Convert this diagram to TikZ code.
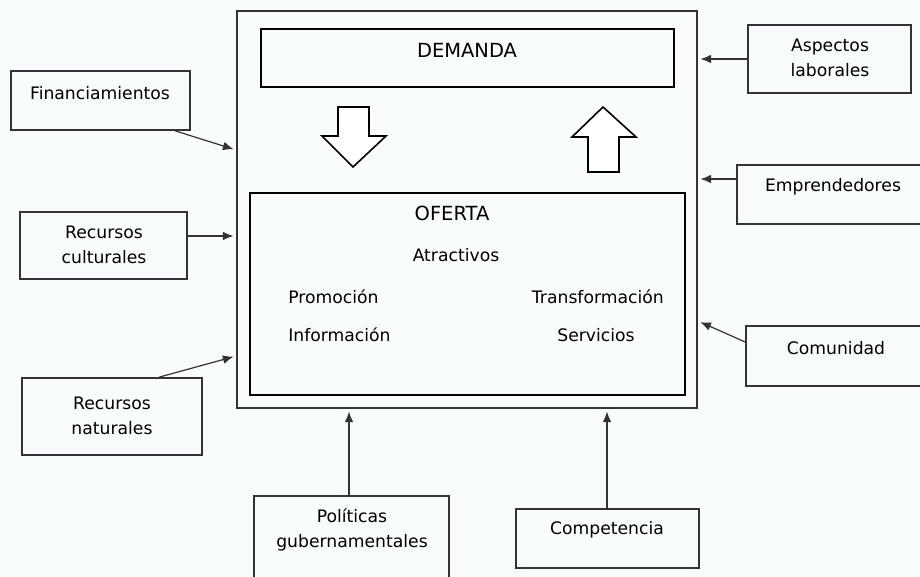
\documentclass[tikz,border=0pt]{standalone}
\usepackage{fontspec}
\setmainfont{DejaVu Sans}
\usetikzlibrary{fit,arrows.meta}
\definecolor{paper}{HTML}{F8FCFC}
\definecolor{ink}{HTML}{333333}

\begin{document}
\begin{tikzpicture}[x=0.75pt,y=-0.75pt,
    box/.style={draw=ink,line width=1.2pt,inner sep=0pt},
    txt/.style={font=\fontsize{12.9}{18.75}\selectfont,align=center,inner sep=0pt},
    head/.style={font=\fontsize{14.6}{18}\selectfont,inner sep=0pt},
    arr/.style={draw=ink,line width=0.9pt,-{Latex[length=8pt,width=6.5pt]},shorten >=2pt},
    bigarrow/.style={draw=black,line width=1.2pt,fill=white,line join=miter}]
\useasboundingbox (0,0) rectangle (920,577);
\fill[paper] (0,0) rectangle (920,577);
\clip (0,0) rectangle (920,577);

% system: demand over supply
\node[box,line width=1.3pt,fit={(237,11) (697,408)}] (sys) {};
\node[box,draw=black,line width=1.4pt,fit={(261,29) (674,87)}] (dem) {};
\node[head] (demt) at (467,50) {DEMANDA};
\node[box,draw=black,line width=1.7pt,fit={(250,193) (685,395)}] (ofe) {};
\node[head] (ofet) at (452,213) {OFERTA};
\node[txt] (atr) at (456,255) {Atractivos};
\node[txt,anchor=west] (pro) at (288,297) {Promoción};
\node[txt,anchor=west] (inf) at (288,335) {Información};
\node[txt,anchor=east] (tra) at (664,297) {Transformación};
\node[txt] (ser) at (596,335) {Servicios};

\draw[bigarrow] (338,107) -- (369,107) -- (369,136) -- (386,136)
    -- (353,167) -- (322,136) -- (338,136) -- cycle;
\draw[bigarrow] (603,107) -- (636,137) -- (619,137) -- (619,172)
    -- (588,172) -- (588,137) -- (572,137) -- cycle;

% left side
\node[box,fit={(11,71) (190,130)}] (fin) {};
\node[txt] (fint) at (100,93) {Financiamientos};
\node[box,fit={(20,212) (187,279)}] (cul) {};
\node[txt] (cult) at (104,245) {Recursos\\culturales};
\node[box,fit={(22,378) (202,455)}] (nat) {};
\node[txt] (natt) at (112,416) {Recursos\\naturales};

% right side
\node[box,fit={(748,25) (911,93)}] (lab) {};
\node[txt] (labt) at (830,58) {Aspectos\\laborales};
\node[box,fit={(737,165) (926,224)}] (emp) {};
\node[txt] (empt) at (833,187) {Emprendedores};
\node[box,fit={(746,326) (926,386)}] (com) {};
\node[txt] (comt) at (836,348) {Comunidad};

% bottom
\node[box,fit={(254,496) (449,590)}] (pol) {};
\node[txt] (polt) at (352,530) {Políticas\\gubernamentales};
\node[box,fit={(516,509) (699,568)}] (cmp) {};
\node[txt] (cmpt) at (607,530) {Competencia};

% influences
\draw[arr] (fin.south -| 175,0) -- (sys.west |- 0,150);
\draw[arr] (cul.east |- 0,236) -- (sys.west |- 0,236);
\draw[arr] (nat.north -| 159,0) -- (sys.west |- 0,356);
\draw[arr] (lab.west |- 0,59) -- (sys.east |- 0,59);
\draw[arr] (emp.west |- 0,179) -- (sys.east |- 0,179);
\draw[arr] (com.west |- 0,342) -- (sys.east |- 0,321);
\draw[arr] (pol.north -| 349,0) -- (sys.south -| 349,0);
\draw[arr] (cmp.north -| 607,0) -- (sys.south -| 607,0);
\end{tikzpicture}
\end{document}
